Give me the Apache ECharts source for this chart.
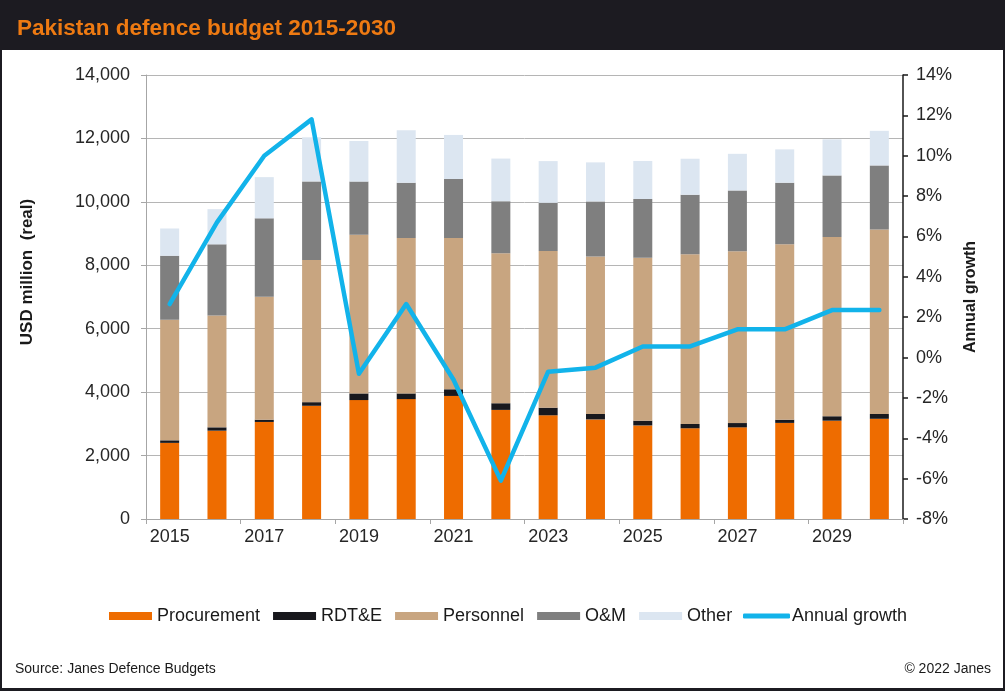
<!DOCTYPE html>
<html>
<head>
<meta charset="utf-8">
<script src="https://cdn.jsdelivr.net/npm/echarts@6/dist/echarts.min.js"></script>
<style>
html,body{margin:0;padding:0;background:#1c1b21;}
#wrap{position:relative;width:1005px;height:691px;background:#1c1b21;overflow:hidden;}
#panel{position:absolute;left:2px;top:50px;width:1001px;height:638px;background:#ffffff;}
#chart{position:absolute;left:0;top:0;width:1005px;height:691px;}
</style>
</head>
<body>
<div id="wrap"><div id="panel"></div><div id="chart"></div></div>
<script>
const years = ['2015','2016','2017','2018','2019','2020','2021','2022','2023','2024','2025','2026','2027','2028','2029','2030'];
const procurement = [2400, 2785, 3060, 3570, 3750, 3780, 3880, 3440, 3270, 3140, 2950, 2860, 2890, 3030, 3100, 3160];
const rdte = [80, 105, 70, 115, 210, 180, 210, 210, 240, 170, 150, 135, 135, 100, 140, 150];
const personnel = [3800, 3530, 3880, 4480, 5000, 4900, 4770, 4730, 4940, 4970, 5140, 5350, 5420, 5530, 5650, 5820];
const om = [2020, 2240, 2470, 2480, 1680, 1745, 1860, 1640, 1520, 1735, 1850, 1880, 1915, 1945, 1945, 2020];
const other = [860, 1110, 1300, 1390, 1280, 1650, 1390, 1345, 1315, 1230, 1200, 1135, 1155, 1050, 1135, 1090];
const growth = [2.65, 6.7, 10.0, 11.8, -0.8, 2.65, -1.1, -6.1, -0.7, -0.5, 0.55, 0.55, 1.4, 1.4, 2.35, 2.35];

const FONT = "'Liberation Sans', Arial, sans-serif";
const chart = echarts.init(document.getElementById('chart'), null, {renderer: 'canvas'});

function barSeries(name, data, color) {
  return {
    name: name, type: 'bar', stack: 'total', data: data, barWidth: 19,
    itemStyle: {color: color}, emphasis: {disabled: true}
  };
}

chart.setOption({
  backgroundColor: 'transparent',
  animation: false,
  textStyle: {fontFamily: FONT},
  title: {
    text: 'Pakistan defence budget 2015-2030',
    left: 12, top: 12,
    textStyle: {color: '#EE7A12', fontSize: 22.5, fontWeight: 'bold', fontFamily: FONT}
  },
  grid: {left: 146, right: 102, top: 75, bottom: 172, containLabel: false},
  legend: [
    {
      left: 104, top: 602,
      itemWidth: 43, itemHeight: 8, itemGap: 13,
      textStyle: {fontSize: 18, color: '#1a1a1a', fontFamily: FONT},
      data: [
        {name: 'Procurement', icon: 'rect'},
        {name: 'RDT&E', icon: 'rect'},
        {name: 'Personnel', icon: 'rect'},
        {name: 'O&M', icon: 'rect'},
        {name: 'Other', icon: 'rect'}
      ]
    },
    {
      left: 738, top: 602,
      itemWidth: 47, itemHeight: 5, itemGap: 13,
      textStyle: {fontSize: 18, color: '#1a1a1a', fontFamily: FONT, padding: [0, 0, 0, -3]},
      data: [{name: 'Annual growth', icon: 'roundRect'}]
    }
  ],
  xAxis: {
    type: 'category', data: years, boundaryGap: true,
    axisLine: {lineStyle: {color: '#a6a6a6', width: 1}},
    axisTick: {show: true, interval: 1, length: 5, lineStyle: {color: '#a6a6a6'}},
    axisLabel: {interval: 1, fontSize: 18, color: '#262626', margin: 9, fontFamily: FONT},
    splitLine: {show: false}
  },
  yAxis: [
    {
      type: 'value', min: 0, max: 14000, interval: 2000,
      name: 'USD million  (real)', nameLocation: 'middle', nameRotate: 90, nameGap: 110,
      nameTextStyle: {fontSize: 17, fontWeight: 'bold', color: '#1a1a1a', fontFamily: FONT, padding: [0, 0, 0, 50]},
      axisLine: {show: true, lineStyle: {color: '#a6a6a6', width: 1}},
      axisTick: {show: true, length: 5, lineStyle: {color: '#a6a6a6'}},
      axisLabel: {fontSize: 18, color: '#262626', margin: 16, fontFamily: FONT,
        formatter: function (v) { return v.toLocaleString('en-US'); }},
      splitLine: {show: true, lineStyle: {color: '#b5b5b5', width: 1}}
    },
    {
      type: 'value', min: -8, max: 14, interval: 2, position: 'right',
      name: 'Annual growth', nameLocation: 'middle', nameRotate: 90, nameGap: 50,
      nameTextStyle: {fontSize: 16, fontWeight: 'bold', color: '#1a1a1a', fontFamily: FONT},
      axisLine: {show: true, lineStyle: {color: '#1a1a1a', width: 1.5}},
      axisTick: {show: true, length: 5, lineStyle: {color: '#1a1a1a', width: 1.5}},
      axisLabel: {fontSize: 18, color: '#262626', margin: 13, fontFamily: FONT, formatter: '{value}%'},
      splitLine: {show: false}
    }
  ],
  series: [
    barSeries('Procurement', procurement, '#EE6C00'),
    barSeries('RDT&E', rdte, '#18181d'),
    barSeries('Personnel', personnel, '#C8A580'),
    barSeries('O&M', om, '#7f7f7f'),
    barSeries('Other', other, '#DCE6F1'),
    {
      name: 'Annual growth', type: 'line', yAxisIndex: 1, data: growth,
      symbol: 'none', showSymbol: false, z: 10,
      lineStyle: {color: '#12B3EA', width: 4.5, cap: 'round', join: 'round'},
      itemStyle: {color: '#12B3EA'},
      emphasis: {disabled: true}
    }
  ],
  graphic: [
    {type: 'text', left: 15, top: 662,
      style: {text: 'Source: Janes Defence Budgets', fontSize: 14, fill: '#1a1a1a', fontFamily: FONT}},
    {type: 'text', right: 14, top: 662,
      style: {text: '\u00A9 2022 Janes', fontSize: 14, fill: '#1a1a1a', fontFamily: FONT}}
  ]
});
</script>
</body>
</html>
